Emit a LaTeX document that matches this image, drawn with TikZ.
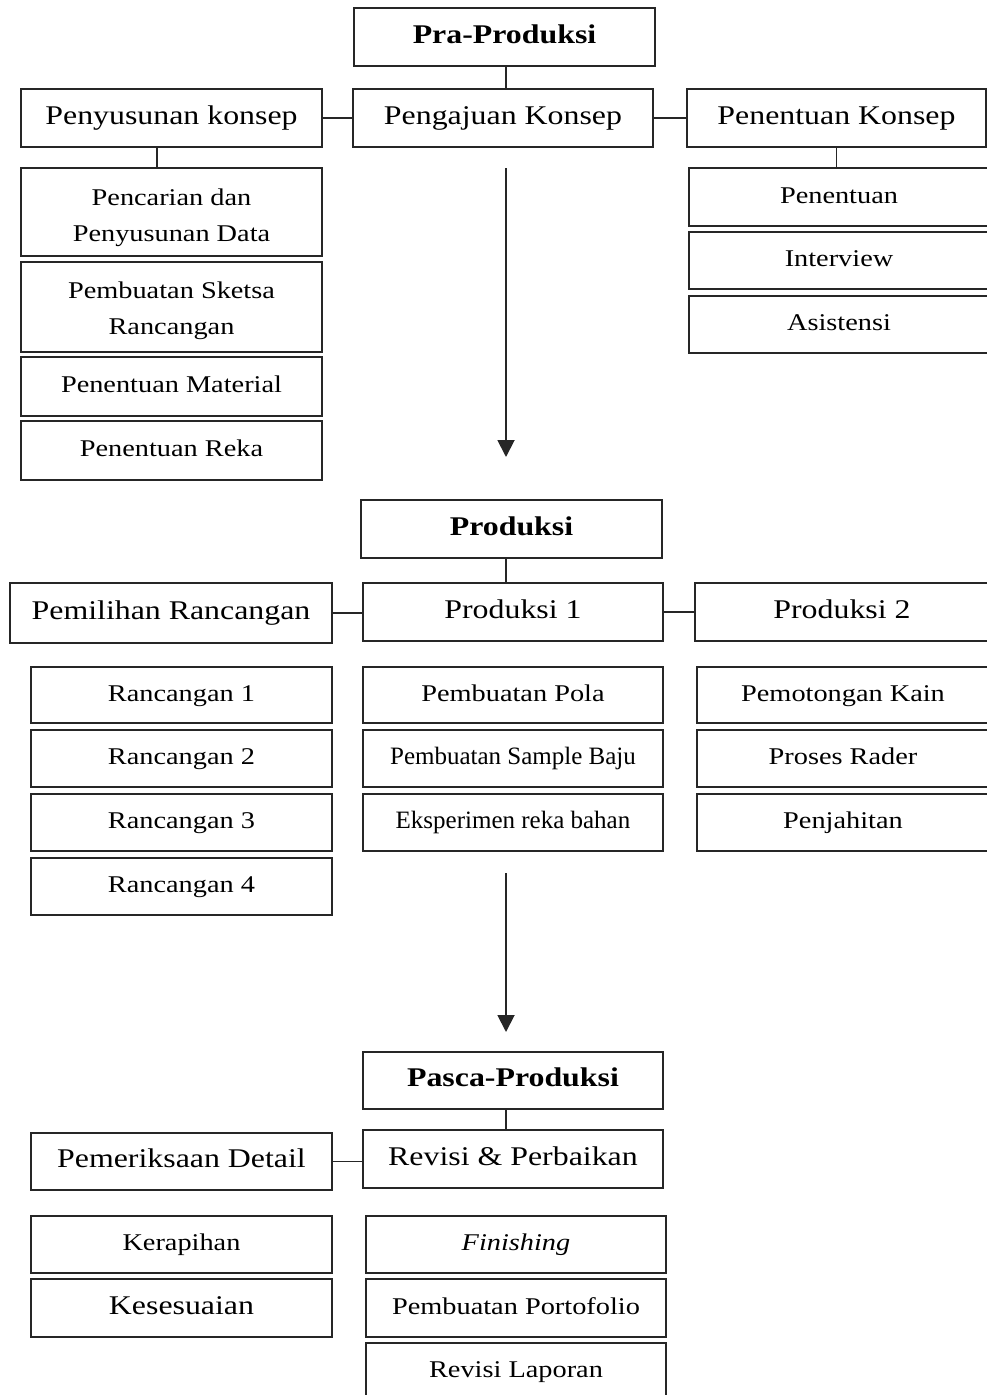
\documentclass[tikz,border=0pt]{standalone}
\usepackage{fontspec}
\setmainfont[FakeStretch=1.18]{Liberation Serif}
\newfontfamily\condfont{Liberation Serif}
\usetikzlibrary{arrows.meta}
\tikzset{
  box/.style={draw=black!85, line width=1.9pt, inner sep=0pt, align=center, text=black},
  oneline/.style={text height=18pt, text depth=6pt},
  bigtxt/.style={oneline, font=\fontsize{27}{34}\selectfont},
  smalltxt/.style={oneline, font=\fontsize{24}{36}\selectfont},
  twoline/.style={text height=0pt, text depth=0pt, font=\fontsize{24}{36}\selectfont},
  titletxt/.style={oneline, font=\fontsize{27}{34}\selectfont\bfseries},
  condtxt/.style={oneline, font=\condfont\fontsize{25}{34}\selectfont},
  link/.style={draw=black!85, line width=1.7pt},
  flowarrow/.style={draw=black!85, line width=1.9pt, -{Triangle[width=17pt,length=17pt]}}
}
\newcommand\bx[7][]{%
  \node[box,#1,minimum width={#5pt-#3pt},minimum height={#6pt-#4pt}]
    (#2) at ({(#3+#5)/2},{(#4+#6)/2}) {#7};}
\newcommand\twolines[3]{\raisebox{#1}[0pt][0pt]{\parbox[t]{290pt}{\centering #2\\#3}}}
\begin{document}
\begin{tikzpicture}[x=1pt,y=-1pt]
\useasboundingbox (0,0) rectangle (987,1395);
% ---------- Pra-Produksi ----------
\bx[titletxt]{pra}{354}{8}{655}{66}{Pra-Produksi}
\bx[bigtxt]{pengajuan}{353}{89}{653}{147}{Pengajuan Konsep}
\bx[bigtxt]{penyusunan}{21}{89}{322}{147}{Penyusunan konsep}
\bx[bigtxt]{penentuanK}{687}{89}{986}{147}{Penentuan Konsep}
\bx[twoline]{pencarian}{21}{168}{322}{256}{\twolines{7pt}{Pencarian dan}{Penyusunan Data}}
\bx[twoline]{sketsa}{21}{262}{322}{352}{\twolines{9pt}{Pembuatan Sketsa}{Rancangan}}
\bx[smalltxt]{material}{21}{357}{322}{416}{Penentuan Material}
\bx[smalltxt]{reka}{21}{421}{322}{480}{Penentuan Reka}
\bx[smalltxt]{penentuan}{689}{168}{989}{226}{Penentuan}
\bx[smalltxt]{interview}{689}{232}{989}{289}{Interview}
\bx[smalltxt]{asistensi}{689}{296}{989}{353}{Asistensi}
\coordinate (a1s) at (506,168);
\coordinate (a1e) at (506,457);
\path[link] (pra.south -| a1s) -- (pengajuan.north -| a1s);
\path[link] (penyusunan.east) -- (penyusunan.east -| pengajuan.west);
\path[link] (pengajuan.east) -- (pengajuan.east -| penentuanK.west);
\path[link] ([xshift=-14.5pt]penyusunan.south) -- ([xshift=-14.5pt]penyusunan.south |- pencarian.north);
\path[link] (penentuanK.south) -- (penentuanK.south |- penentuan.north);
\path[flowarrow] (a1s) -- (a1e);
% ---------- Produksi ----------
\bx[titletxt]{produksi}{361}{500}{662}{558}{Produksi}
\bx[bigtxt]{pemilihan}{10}{583}{332}{643}{Pemilihan Rancangan}
\bx[bigtxt]{prod1}{363}{583}{663}{641}{Produksi 1}
\bx[bigtxt]{prod2}{695}{583}{989}{641}{Produksi 2}
\bx[smalltxt]{r1}{31}{667}{332}{723}{Rancangan 1}
\bx[smalltxt]{r2}{31}{730}{332}{787}{Rancangan 2}
\bx[smalltxt]{r3}{31}{794}{332}{851}{Rancangan 3}
\bx[smalltxt]{r4}{31}{858}{332}{915}{Rancangan 4}
\bx[smalltxt]{pola}{363}{667}{663}{723}{Pembuatan Pola}
\bx[condtxt]{sample}{363}{730}{663}{787}{Pembuatan Sample Baju}
\bx[condtxt]{eksperimen}{363}{794}{663}{851}{Eksperimen reka bahan}
\bx[smalltxt]{potong}{697}{667}{989}{723}{Pemotongan Kain}
\bx[smalltxt]{rader}{697}{730}{989}{787}{Proses Rader}
\bx[smalltxt]{jahit}{697}{794}{989}{851}{Penjahitan}
\coordinate (a2s) at (506,873);
\coordinate (a2e) at (506,1032);
\path[link] (produksi.south -| a1s) -- (prod1.north -| a1s);
\path[link] (pemilihan.east) -- (pemilihan.east -| prod1.west);
\path[link] (prod1.east) -- (prod1.east -| prod2.west);
\path[flowarrow] (a2s) -- (a2e);
% ---------- Pasca-Produksi ----------
\bx[titletxt]{pasca}{363}{1052}{663}{1109}{Pasca-Produksi}
\bx[bigtxt]{pemeriksaan}{31}{1133}{332}{1190}{Pemeriksaan Detail}
\bx[bigtxt]{revisi}{363}{1130}{663}{1188}{Revisi \& Perbaikan}
\bx[smalltxt]{kerapihan}{31}{1216}{332}{1273}{Kerapihan}
\bx[bigtxt]{kesesuaian}{31}{1279}{332}{1337}{Kesesuaian}
\bx[smalltxt]{finishing}{366}{1216}{666}{1273}{\itshape Finishing}
\bx[smalltxt]{portofolio}{366}{1279}{666}{1337}{Pembuatan Portofolio}
\bx[smalltxt]{laporan}{366}{1343}{666}{1400}{Revisi Laporan}
\path[link] (pasca.south -| a1s) -- (revisi.north -| a1s);
\path[link] (pemeriksaan.east) -- (pemeriksaan.east -| revisi.west);
\end{tikzpicture}
\end{document}
